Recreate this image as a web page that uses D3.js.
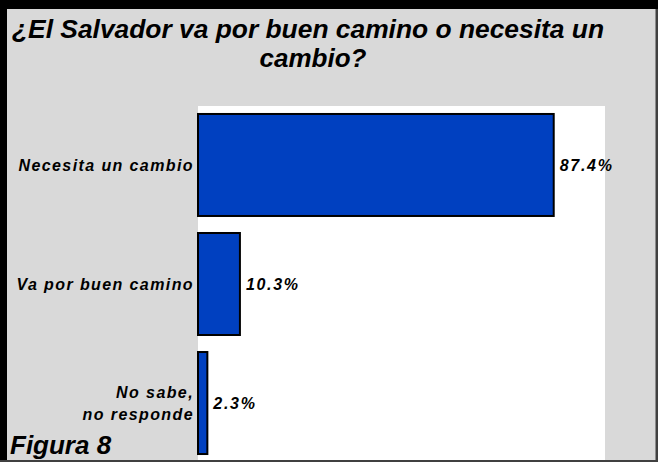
<!DOCTYPE html>
<html><head><meta charset="utf-8">
<script src="https://cdn.jsdelivr.net/npm/d3@7"></script>
<style>
html,body{margin:0;padding:0;background:#fff;}
svg{display:block;}
text{font-family:"Liberation Sans",Arial,sans-serif;font-weight:bold;font-style:italic;fill:#000;}
</style></head>
<body>
<svg id="c" width="658" height="462"></svg>
<script>
const titleLines = ["¿El Salvador va por buen camino o necesita un", "cambio?"];
const categories = [["Necesita un cambio"], ["Va por buen camino"], ["No sabe,", "no responde"]];
const values = [87.4, 10.3, 2.3];
const valueLabels = ["87.4%", "10.3%", "2.3%"];
const figureLabel = "Figura 8";

const svg = d3.select("#c");
const W = 658, H = 462;

// background + frame
svg.append("rect").attr("x",0).attr("y",0).attr("width",W).attr("height",H).attr("fill","#d9d9d9");
svg.append("rect").attr("x",0).attr("y",0).attr("width",W).attr("height",9).attr("fill","#000");
svg.append("rect").attr("x",0).attr("y",0).attr("width",7).attr("height",H).attr("fill","#000");
svg.append("rect").attr("x",655.5).attr("y",9).attr("width",2.5).attr("height",H-9).attr("fill","#404040");
svg.append("rect").attr("x",0).attr("y",460).attr("width",W).attr("height",2).attr("fill","#404040");

// plot area
const x = d3.scaleLinear().domain([0,100]).range([198,605]);
const y = d3.scaleBand().domain(d3.range(categories.length)).range([106,462]).paddingInner(0.143).paddingOuter(0.067);

svg.append("rect").attr("x",x(0)).attr("y",106).attr("width",x(100)-x(0)).attr("height",354).attr("fill","#fff");

// title
const t1 = svg.append("text").attr("x",12).attr("y",38).attr("font-size",26).text(titleLines[0]);
t1.attr("textLength",592).attr("lengthAdjust","spacingAndGlyphs");
svg.append("text").attr("x",313).attr("y",67).attr("text-anchor","middle").attr("font-size",26).text(titleLines[1]);

// bars
svg.selectAll("rect.bar").data(values).join("rect").attr("class","bar")
  .attr("x",x(0)).attr("y",(d,i)=>y(i))
  .attr("width",d=>x(d)-x(0)).attr("height",y.bandwidth())
  .attr("fill","#0040c0").attr("stroke","#000").attr("stroke-width",2);

// value labels
svg.selectAll("text.val").data(values).join("text").attr("class","val")
  .attr("x",d=>x(d)+6).attr("y",(d,i)=>y(i)+y.bandwidth()/2)
  .attr("dy","0.36em").attr("font-size",16).attr("letter-spacing",1.7)
  .text((d,i)=>valueLabels[i]);

// category labels
categories.forEach((lines,i)=>{
  const cy = y(i)+y.bandwidth()/2;
  const lh = 22;
  const t = svg.append("text").attr("text-anchor","end").attr("font-size",16).attr("letter-spacing",1.4);
  lines.forEach((l,j)=>{
    t.append("tspan").attr("x",194).attr("y",cy + (j-(lines.length-1)/2)*lh).attr("dy","0.36em").text(l);
  });
});

// figure label
svg.append("text").attr("x",10).attr("y",454).attr("font-size",26).text(figureLabel);
</script>
</body></html>
